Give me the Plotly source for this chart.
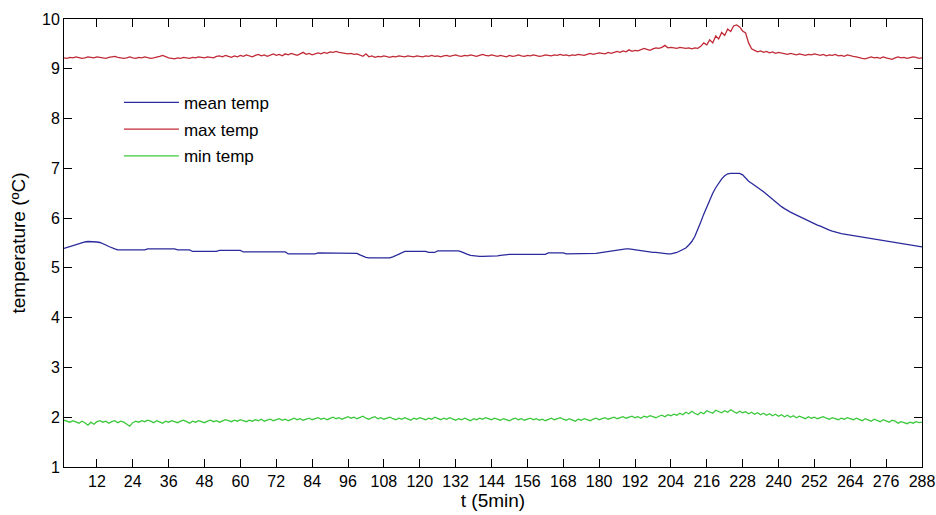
import plotly.graph_objects as go

t = list(range(1, 289))

x_tick_vals = list(range(12, 289, 12))
y_tick_vals = list(range(1, 11))

mean_temp = [
    5.39, 5.41, 5.43, 5.45, 5.47, 5.49, 5.50, 5.52, 5.53, 5.53, 5.53, 5.52,
    5.51, 5.49, 5.46, 5.43, 5.40, 5.38, 5.36, 5.36, 5.36, 5.36, 5.36, 5.36,
    5.36, 5.36, 5.36, 5.36, 5.38, 5.38, 5.38, 5.38, 5.38, 5.38, 5.38, 5.38,
    5.38, 5.38, 5.36, 5.36, 5.36, 5.36, 5.36, 5.33, 5.33, 5.33, 5.33, 5.33,
    5.33, 5.33, 5.33, 5.33, 5.35, 5.35, 5.35, 5.35, 5.35, 5.35, 5.35, 5.35,
    5.32, 5.32, 5.32, 5.32, 5.32, 5.32, 5.32, 5.32, 5.32, 5.32, 5.32, 5.32,
    5.32, 5.32, 5.32, 5.28, 5.28, 5.28, 5.28, 5.28, 5.28, 5.28, 5.28, 5.28,
    5.28, 5.30, 5.30, 5.30, 5.30, 5.30, 5.30, 5.30, 5.30, 5.30, 5.30, 5.30,
    5.30, 5.30, 5.29, 5.26, 5.23, 5.21, 5.20, 5.20, 5.20, 5.20, 5.20, 5.20,
    5.20, 5.20, 5.22, 5.25, 5.28, 5.31, 5.33, 5.33, 5.33, 5.33, 5.33, 5.33,
    5.33, 5.33, 5.31, 5.31, 5.31, 5.34, 5.34, 5.34, 5.34, 5.34, 5.34, 5.34,
    5.34, 5.32, 5.29, 5.27, 5.25, 5.24, 5.23, 5.23, 5.23, 5.23, 5.23, 5.23,
    5.23, 5.24, 5.25, 5.26, 5.27, 5.27, 5.27, 5.27, 5.27, 5.27, 5.27, 5.27,
    5.27, 5.27, 5.27, 5.27, 5.27, 5.27, 5.30, 5.30, 5.30, 5.30, 5.30, 5.30,
    5.28, 5.28, 5.28, 5.28, 5.28, 5.28, 5.28, 5.28, 5.28, 5.28, 5.29, 5.30,
    5.31, 5.32, 5.33, 5.34, 5.35, 5.36, 5.37, 5.38, 5.38, 5.38, 5.37, 5.36,
    5.35, 5.34, 5.34, 5.33, 5.32, 5.31, 5.31, 5.30, 5.29, 5.29, 5.28, 5.28,
    5.29, 5.31, 5.34, 5.37, 5.40, 5.46, 5.53, 5.63, 5.76, 5.92, 6.08, 6.23,
    6.37, 6.50, 6.61, 6.71, 6.79, 6.85, 6.89, 6.90, 6.90, 6.90, 6.90, 6.87,
    6.80, 6.74, 6.70, 6.66, 6.62, 6.57, 6.53, 6.48, 6.43, 6.38, 6.33, 6.27,
    6.23, 6.19, 6.15, 6.12, 6.09, 6.06, 6.03, 6.00, 5.97, 5.94, 5.91, 5.88,
    5.86, 5.84, 5.81, 5.79, 5.76, 5.74, 5.72, 5.70, 5.69, 5.68, 5.67, 5.66,
    5.65, 5.64, 5.63, 5.62, 5.61, 5.60, 5.59, 5.59, 5.58, 5.57, 5.56, 5.55,
    5.54, 5.53, 5.52, 5.51, 5.50, 5.49, 5.48, 5.47, 5.46, 5.45, 5.43, 5.42,
]

max_temp = [
    9.22, 9.21, 9.23, 9.22, 9.24, 9.23, 9.21, 9.22, 9.24, 9.23, 9.22, 9.24,
    9.23, 9.22, 9.21, 9.23, 9.24, 9.25, 9.23, 9.22, 9.21, 9.22, 9.24, 9.22,
    9.21, 9.23, 9.22, 9.24, 9.23, 9.21, 9.22, 9.23, 9.25, 9.27, 9.24, 9.22,
    9.21, 9.20, 9.22, 9.21, 9.23, 9.22, 9.21, 9.23, 9.22, 9.24, 9.23, 9.22,
    9.24, 9.23, 9.22, 9.25, 9.26, 9.24, 9.27, 9.25, 9.23, 9.26, 9.24, 9.27,
    9.25, 9.28, 9.26, 9.24, 9.27, 9.29, 9.26, 9.28, 9.25, 9.27, 9.30, 9.27,
    9.29, 9.26, 9.30, 9.28, 9.31, 9.29, 9.27, 9.30, 9.33, 9.29, 9.31, 9.28,
    9.30, 9.32, 9.30, 9.33, 9.31, 9.34, 9.33, 9.35, 9.33, 9.32, 9.31, 9.30,
    9.31, 9.29, 9.30, 9.27, 9.25, 9.30, 9.24, 9.26, 9.23, 9.25, 9.24, 9.26,
    9.24, 9.23, 9.25, 9.24, 9.26, 9.25, 9.24, 9.26, 9.25, 9.24, 9.26, 9.25,
    9.24, 9.26, 9.25, 9.27, 9.25, 9.26, 9.24, 9.26, 9.27, 9.25, 9.26, 9.28,
    9.26, 9.25, 9.27, 9.26, 9.28, 9.26, 9.25, 9.27, 9.29, 9.27, 9.26, 9.28,
    9.27, 9.25, 9.27, 9.26, 9.24, 9.27, 9.25, 9.26, 9.28, 9.26, 9.25, 9.27,
    9.26, 9.28, 9.27, 9.25, 9.26, 9.28, 9.27, 9.26, 9.28, 9.27, 9.29, 9.27,
    9.28, 9.26, 9.28, 9.27, 9.29, 9.28, 9.27, 9.29, 9.31, 9.29, 9.30, 9.32,
    9.31, 9.30, 9.33, 9.31, 9.33, 9.35, 9.33, 9.36, 9.34, 9.38, 9.35, 9.37,
    9.36, 9.38, 9.41, 9.39, 9.37, 9.40, 9.42, 9.41, 9.43, 9.47, 9.42, 9.43,
    9.42, 9.41, 9.43, 9.42, 9.41, 9.42, 9.40, 9.42, 9.41, 9.45, 9.52, 9.48,
    9.58, 9.52, 9.66, 9.60, 9.73, 9.67, 9.80, 9.75, 9.86, 9.88, 9.84, 9.76,
    9.72, 9.52, 9.40, 9.37, 9.34, 9.36, 9.33, 9.35, 9.32, 9.34, 9.31, 9.33,
    9.32, 9.30, 9.29, 9.31, 9.29, 9.28, 9.30, 9.28, 9.27, 9.29, 9.28, 9.30,
    9.28, 9.27, 9.29, 9.26, 9.28, 9.27, 9.29, 9.26, 9.27, 9.25, 9.28, 9.26,
    9.25, 9.24, 9.22, 9.21, 9.20, 9.22, 9.24, 9.22, 9.23, 9.21, 9.24, 9.22,
    9.20, 9.19, 9.22, 9.24, 9.22, 9.23, 9.21, 9.22, 9.24, 9.23, 9.21, 9.22,
]

min_temp = [
    1.94, 1.92, 1.90, 1.93, 1.91, 1.88, 1.92, 1.89, 1.84, 1.90, 1.86, 1.91,
    1.93, 1.90, 1.92, 1.88, 1.91, 1.93, 1.89, 1.92, 1.90, 1.86, 1.82, 1.89,
    1.92, 1.90, 1.93, 1.91, 1.94, 1.92, 1.89, 1.93, 1.90, 1.88, 1.92, 1.90,
    1.93, 1.91, 1.89, 1.92, 1.94, 1.91, 1.88, 1.92, 1.90, 1.93, 1.91, 1.89,
    1.92, 1.94, 1.91, 1.93, 1.90, 1.92, 1.95, 1.93, 1.91, 1.94, 1.92, 1.95,
    1.93, 1.91, 1.94, 1.92, 1.95, 1.93, 1.96, 1.92, 1.94, 1.96, 1.93, 1.95,
    1.97, 1.94, 1.96, 1.93, 1.95, 1.98, 1.95, 1.97, 1.94, 1.96, 1.98, 1.95,
    1.97, 1.99, 1.96, 1.98, 1.95, 1.97, 2.00, 1.97, 1.99, 1.96, 1.98, 2.01,
    1.98, 2.00, 1.97, 1.99, 2.02, 1.98, 1.96, 1.99, 2.01, 1.97, 1.99, 1.96,
    1.98, 2.00, 1.97, 1.95, 1.98, 1.96, 1.99, 1.97, 1.94, 1.98, 1.96, 1.99,
    1.97, 1.95, 1.98, 1.96, 2.00, 1.97, 1.95, 1.98, 1.96, 1.99, 1.97, 1.94,
    1.97, 1.95, 1.98, 1.96, 1.93, 1.97, 1.95, 1.98, 1.96, 1.99, 1.97, 1.95,
    1.98, 1.96, 1.94, 1.97, 1.95, 1.93, 1.96, 1.98, 1.95, 1.97, 1.94, 1.96,
    1.98, 1.95, 1.97, 1.94, 1.96, 1.93, 1.96, 1.98, 1.95, 1.97, 1.99, 1.96,
    1.94, 1.97, 1.95, 1.92, 1.96, 1.94, 1.97, 1.95, 1.93, 1.96, 1.98, 1.95,
    1.97, 1.99, 1.96, 1.98, 2.00, 1.97, 1.99, 2.01, 1.98, 2.00, 2.02, 1.99,
    2.01, 1.98, 2.02, 2.00, 2.03, 2.01, 1.99, 2.02, 2.04, 2.01, 2.05, 2.03,
    2.06, 2.04, 2.08, 2.05, 2.10, 2.07, 2.12, 2.08, 2.05, 2.10, 2.07, 2.13,
    2.10, 2.08, 2.14, 2.11, 2.09, 2.13, 2.10, 2.15, 2.11, 2.08, 2.12, 2.09,
    2.11, 2.07, 2.10, 2.06, 2.09, 2.05, 2.08, 2.04, 2.07, 2.03, 2.06, 2.02,
    2.05, 2.01, 2.04, 2.00, 2.03, 1.99, 2.02, 2.00, 1.97, 2.01, 1.98, 2.00,
    1.97, 1.99, 2.01, 1.98, 1.96, 1.99, 1.97, 1.95, 1.98, 1.96, 1.99, 1.97,
    1.95, 1.98, 1.96, 1.93, 1.97, 1.95, 1.92, 1.96, 1.94, 1.91, 1.95, 1.93,
    1.90, 1.94, 1.92, 1.88, 1.91, 1.89, 1.87, 1.90, 1.88, 1.91, 1.89, 1.90,
]

series_names = ["mean temp", "max temp", "min temp"]
series_colors = ["#2a2a9c", "#c02a36", "#3cc83c"]

fig = go.Figure()
for i, (name, vals, col) in enumerate(zip(series_names, [mean_temp, max_temp, min_temp], series_colors)):
    fig.add_trace(go.Scatter(
        x=t, y=vals, mode="lines", name=name, legendgroup=f"g{i}",
        line=dict(color=col, width=1.3),
    ))

font_family = "Liberation Sans, Arial, sans-serif"

fig.update_layout(
    width=936, height=515,
    margin=dict(l=64, r=14, t=19, b=48),
    paper_bgcolor="white", plot_bgcolor="white",
    font=dict(family=font_family, size=16, color="black"),
    showlegend=True,
    legend=dict(
        x=0.064, y=0.853, xanchor="left", yanchor="top",
        bgcolor="rgba(255,255,255,0)", borderwidth=0,
        font=dict(size=17), tracegroupgap=1.6, traceorder="grouped",
        itemwidth=55,
    ),
    xaxis=dict(
        range=[1, 288], tickmode="array", tickvals=x_tick_vals,
        ticks="inside", ticklen=8, tickcolor="black", tickwidth=1,
        showline=True, linecolor="black", linewidth=1, mirror="ticks",
        showgrid=False, zeroline=False, automargin=False,
        title=dict(text="t (5min)", font=dict(size=19), standoff=3),
        tickfont=dict(size=16),
    ),
    yaxis=dict(
        range=[1, 10], tickmode="array", tickvals=y_tick_vals,
        ticks="inside", ticklen=8, tickcolor="black", tickwidth=1,
        showline=True, linecolor="black", linewidth=1, mirror="ticks",
        showgrid=False, zeroline=False, automargin=False,
        title=dict(text="temperature (ºC)", font=dict(size=19), standoff=11),
        tickfont=dict(size=16),
    ),
)

fig.write_html("out.html")
